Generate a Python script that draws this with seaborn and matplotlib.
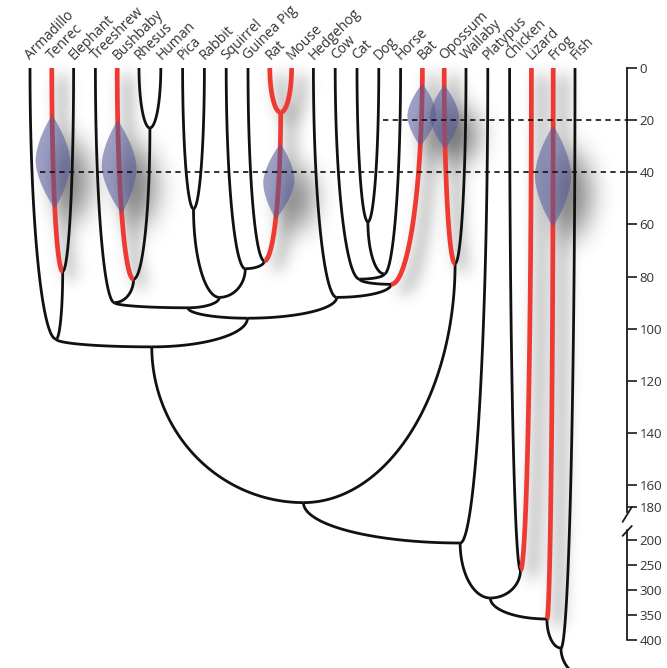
import numpy as np
import matplotlib
matplotlib.use("Agg")
import matplotlib.pyplot as plt
import seaborn as sns
from matplotlib.collections import LineCollection, PolyCollection

sns.set_theme(style="white")
plt.rcParams["font.family"] = ["Open Sans", "DejaVu Sans"]

# ---------------- data ----------------
species = ["Armadillo", "Tenrec", "Elephant", "Treeshrew", "Bushbaby", "Rhesus",
           "Human", "Pica", "Rabbit", "Squirrel", "Guinea Pig", "Rat", "Mouse",
           "Hedgehog", "Cow", "Cat", "Dog", "Horse", "Bat", "Opossum", "Wallaby",
           "Platypus", "Chicken", "Lizard", "Frog", "Fish"]

clade_names = ["Afrotheria", "Atlantogenata", "Catarrhini", "Primates", "Euarchonta",
               "Lagomorpha", "Muridae", "RodentiaA", "Rodentia", "Glires",
               "Euarchontoglires", "Carnivora", "LaurA", "LaurB", "Scrotifera",
               "Laurasiatheria", "Boreoeutheria", "Placentalia", "Marsupialia",
               "Theria", "Mammalia", "Sauropsida", "Amniota", "Tetrapoda", "Vertebrata"]
clade_first = ["Tenrec", "Armadillo", "Rhesus", "Bushbaby", "Treeshrew",
               "Pica", "Rat", "Guinea Pig", "Squirrel", "Lagomorpha",
               "Euarchonta", "Cat", "Carnivora", "Cow", "LaurB",
               "Hedgehog", "Euarchontoglires", "Atlantogenata", "Opossum",
               "Placentalia", "Theria", "Chicken", "Mammalia", "Amniota", "Tetrapoda"]
clade_second = ["Elephant", "Afrotheria", "Human", "Catarrhini", "Primates",
                "Rabbit", "Mouse", "Muridae", "RodentiaA", "Rodentia",
                "Glires", "Dog", "Horse", "LaurA", "Bat",
                "Scrotifera", "Laurasiatheria", "Boreoeutheria", "Wallaby",
                "Marsupialia", "Platypus", "Lizard", "Sauropsida", "Frog", "Fish"]
clade_age = [78, 104, 23, 81, 90, 54, 17, 74, 77, 88, 92, 59, 79, 81, 83, 88,
             96, 107, 75, 176, 206, 260, 316, 358, 416]

highlighted = ["Tenrec", "Bushbaby", "Rat", "Mouse", "Muridae", "Bat",
               "Opossum", "Lizard", "Frog"]

lens_branch = ["Tenrec", "Bushbaby", "Muridae", "Bat", "Opossum", "Frog"]
lens_young = [18, 20, 29, 6, 6.5, 22]
lens_old = [54, 56, 58, 30, 31, 61]

ref_ages = [20, 40]
ref_from = ["Bat", "Armadillo"]

axis_ticks = [0, 20, 40, 60, 80, 100, 120, 140, 160, 180, 200, 250, 300, 350, 400]

# ---------------- layout / style ----------------
FIG_W, FIG_H = 667, 668
PX_PER_LEAF = 21.8
LEFT_PX = 30
SPINE_X = (627 - LEFT_PX) / PX_PER_LEAF
AGE_KNOTS = np.array([-100, 0, 160, 180, 200, 400, 1000], float)
PIX_KNOTS = np.array([68 - 260.6, 68, 485, 507, 540, 640, 940], float)
NODE_LEAN = {"Atlantogenata": 0.8, "Euarchontoglires": 0.7, "Boreoeutheria": 0.4,
             "Laurasiatheria": 0.3, "Mammalia": 0.85, "Tetrapoda": 0.9}
REF_OFFSET = {"Bat": -1.8, "Armadillo": 0.45}
BLACK = "#111111"
RED = "#ee3a32"
LENS = (0.33, 0.35, 0.60, 0.56)


def to_pix(t):
    return np.interp(np.asarray(t, float), AGE_KNOTS, PIX_KNOTS)


def to_age(p):
    return np.interp(np.asarray(p, float), PIX_KNOTS, AGE_KNOTS)


# node positions
xpos = {s: float(i) for i, s in enumerate(species)}
age = {s: 0.0 for s in species}
parent = {}
for n, a, b, t in zip(clade_names, clade_first, clade_second, clade_age):
    lean = NODE_LEAN.get(n, 0.5)
    xpos[n] = xpos[a] + lean * (xpos[b] - xpos[a])
    age[n] = float(t)
    parent[a] = n
    parent[b] = n


def branch_xy(child, n=160):
    p = parent[child]
    xc, xp = xpos[child], xpos[p]
    yc, yp = to_pix(age[child]), to_pix(age[p])
    th = np.linspace(0, np.pi / 2, n)
    x = xc + (xp - xc) * (1 - np.cos(th))
    y = yc + (yp - yc) * np.sin(th)
    return x, to_age(y)


def branch_x_at(child, t):
    p = parent[child]
    xc, xp = xpos[child], xpos[p]
    yc, yp = to_pix(age[child]), to_pix(age[p])
    s = np.clip((to_pix(t) - yc) / (yp - yc), 0, 1)
    th = np.arcsin(s)
    return xc + (xp - xc) * (1 - np.cos(th))


def shadow_filter(sigma, dx, dy, strength):
    r = int(3 * sigma)
    k = np.exp(-0.5 * (np.arange(-r, r + 1) / sigma) ** 2)
    k /= k.sum()

    def filt(im, dpi):
        pad = r + int(max(abs(dx), abs(dy))) + 2
        a = np.pad(im[:, :, 3], pad)
        a = np.apply_along_axis(lambda v: np.convolve(v, k, mode="same"), 0, a)
        a = np.apply_along_axis(lambda v: np.convolve(v, k, mode="same"), 1, a)
        a = np.roll(a, int(dx), axis=1)
        a = np.roll(a, int(dy), axis=0)
        out = np.zeros(a.shape + (4,), dtype=float)
        out[..., 3] = np.clip(a * strength, 0, 1)
        return out, -pad, -pad
    return filt


fig = plt.figure(figsize=(FIG_W / 100, FIG_H / 100), dpi=100)
ax = fig.add_axes([0, 0, 1, 1])
ax.set_facecolor("none")
ax.set_yscale("function", functions=(to_pix, to_age))
ax.set_xlim(-LEFT_PX / PX_PER_LEAF, (FIG_W - LEFT_PX) / PX_PER_LEAF)
ax.set_ylim(to_age(FIG_H), to_age(0))

black_segs, red_segs = [], []
for child in parent:
    x, t = branch_xy(child)
    seg = np.column_stack([x, t])
    (red_segs if child in highlighted else black_segs).append(seg)

# root stem
root = clade_names[-1]
th = np.linspace(0, np.pi / 2, 80)
y0, y1 = to_pix(age[root]), to_pix(age[root]) + 30
stem = np.column_stack([xpos[root] + 1.3 * (1 - np.cos(th)),
                        to_age(y0 + (y1 - y0) * np.sin(th))])
black_segs.append(stem)

# lenses
lens_polys = []
for b, ty, to in zip(lens_branch, lens_young, lens_old):
    t = np.linspace(ty, to, 80)
    xc = branch_x_at(b, t)
    L = to_pix(to) - to_pix(ty)
    W = (8 + 0.1 * L) / PX_PER_LEAF
    u = np.linspace(0, 1, 80)
    w = W * (1 - np.abs(2 * u - 1) ** 1.7)
    poly = np.vstack([np.column_stack([xc - w, t]),
                      np.column_stack([(xc + w)[::-1], t[::-1]])])
    lens_polys.append(poly)

# shadows
sh_lines = LineCollection(red_segs, colors="k", linewidths=4.0, zorder=1)
sh_lines.set_agg_filter(shadow_filter(8, 10, 7, 0.6))
sh_lines.set_rasterized(True)
ax.add_collection(sh_lines)
sh_lens = PolyCollection(lens_polys, facecolors="k", edgecolors="none", zorder=1)
sh_lens.set_agg_filter(shadow_filter(9, 10, 9, 0.7))
sh_lens.set_rasterized(True)
ax.add_collection(sh_lens)

ax.add_collection(LineCollection(black_segs, colors=BLACK, linewidths=2.0,
                                 capstyle="butt", joinstyle="round", zorder=3))
ax.add_collection(LineCollection(red_segs, colors=RED, linewidths=3.4,
                                 capstyle="butt", joinstyle="round", zorder=4))
ax.add_collection(PolyCollection(lens_polys, facecolors=[LENS], edgecolors="none",
                                 zorder=5))

# reference lines
for a, sp in zip(ref_ages, ref_from):
    ax.hlines(a, xpos[sp] + REF_OFFSET[sp], SPINE_X, colors="#111111",
              linestyles=(0, (3.2, 2.6)), linewidth=1.2, zorder=6)

# leaf labels
for s in species:
    ax.text(xpos[s] + 0.15, -1.8, s, rotation=45, rotation_mode="anchor",
            ha="left", va="bottom", fontsize=10, color="#333333", zorder=7)

# age axis on the right
for side in ["top", "left", "bottom"]:
    ax.spines[side].set_visible(False)
ax.spines["right"].set_position(("data", SPINE_X))
ax.spines["right"].set_bounds(0, 183)
ax.spines["right"].set_linewidth(1.3)
ax.spines["right"].set_color("k")
ax.set_xticks([])
ax.set_yticks(axis_ticks)
ax.set_yticklabels([str(v) for v in axis_ticks])
ax.yaxis.set_ticks_position("right")
ax.tick_params(axis="y", which="major", direction="out", length=7, width=1.2,
               pad=2, labelsize=9.5, colors="k")
ax.tick_params(axis="y", labelcolor="#333333")
ax.minorticks_off()
ax.plot([SPINE_X, SPINE_X], [194, 400], color="k", lw=1.3, clip_on=False, zorder=6)
for t_lo, t_hi in [(189, 180), (197.5, 191.5)]:
    ax.plot([SPINE_X - 0.2, SPINE_X + 0.22], [t_lo, t_hi], color="k", lw=1.3,
            clip_on=False, zorder=6)
ax.grid(False)

fig.savefig("out.png", dpi=100, facecolor="white")
